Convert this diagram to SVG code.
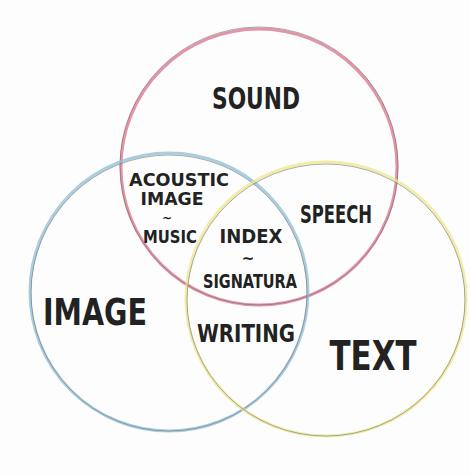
<svg xmlns="http://www.w3.org/2000/svg" width="470" height="475" viewBox="0 0 470 475">
<style>
.lbl{font-family:"DejaVu Sans","Liberation Sans",sans-serif;font-weight:bold;fill:#222;text-anchor:middle}
.g{fill:none;stroke:#6a6a6a;stroke-width:1;opacity:0.55}
.c{fill:none;stroke-width:3;opacity:0.75}
</style>
<rect width="470" height="475" fill="#fdfdfd"/>
<g id="sound">
<circle class="c" cx="259" cy="167" r="138" stroke="#d9708a"/>
<circle class="g" cx="259" cy="166" r="139"/>
</g>
<g id="image">
<circle class="c" cx="169" cy="292" r="139" stroke="#8dbed6"/>
<circle class="g" cx="169" cy="293" r="138"/>
</g>
<g id="text">
<ellipse class="c" cx="326" cy="299" rx="140" ry="137" stroke="#ece58e"/>
<ellipse class="g" cx="326" cy="300" rx="139" ry="136"/>
</g>
<g id="connectors"></g>
<g id="labels">
<text class="lbl" x="256" y="109" font-size="30" textLength="88" lengthAdjust="spacingAndGlyphs">SOUND</text>
<text class="lbl" x="95" y="325" font-size="38" textLength="104" lengthAdjust="spacingAndGlyphs">IMAGE</text>
<text class="lbl" x="373" y="370" font-size="40" textLength="87" lengthAdjust="spacingAndGlyphs">TEXT</text>
<text class="lbl" x="336" y="223" font-size="24" textLength="72" lengthAdjust="spacingAndGlyphs">SPEECH</text>
<text class="lbl" x="246" y="342" font-size="25" textLength="98" lengthAdjust="spacingAndGlyphs">WRITING</text>
<text class="lbl" x="179" y="186" font-size="18" textLength="100" lengthAdjust="spacingAndGlyphs">ACOUSTIC</text>
<text class="lbl" x="172" y="205" font-size="18" textLength="63" lengthAdjust="spacingAndGlyphs">IMAGE</text>
<text class="lbl" x="167" y="222" font-size="12">~</text>
<text class="lbl" x="170" y="243" font-size="17" textLength="54" lengthAdjust="spacingAndGlyphs">MUSIC</text>
<text class="lbl" x="251" y="243" font-size="20" textLength="63" lengthAdjust="spacingAndGlyphs">INDEX</text>
<text class="lbl" x="248" y="264" font-size="15">~</text>
<text class="lbl" x="250" y="288" font-size="20" textLength="94" lengthAdjust="spacingAndGlyphs">SIGNATURA</text>
</g>
</svg>
